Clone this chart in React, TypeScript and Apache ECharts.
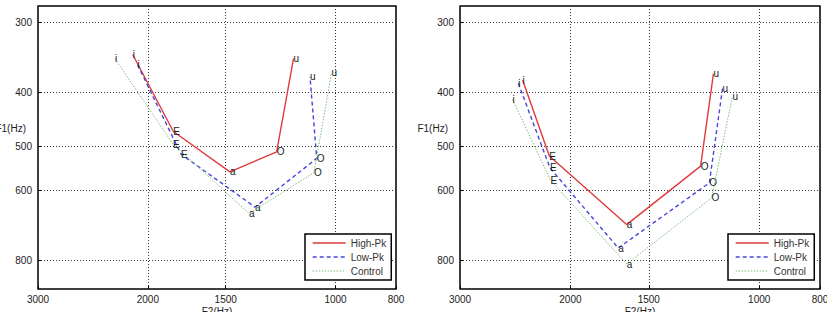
import React, { useEffect, useRef } from "react";
import * as echarts from "echarts";

// Vowel labels, in drawing order along each curve
const vowels = ["i", "E", "a", "O", "u"];

// Axis tick values (Hz)
const f2Ticks = [3000, 2000, 1500, 1000, 800];
const f1Ticks = [300, 400, 500, 600, 800];

// Left panel: formant values (Hz) per group
const leftHighF2 = [2115, 1820, 1477, 1243, 1168];
const leftHighF1 = [342, 470, 555, 511, 348];
const leftLowF2 = [2077, 1769, 1346, 1072, 1099];
const leftLowF1 = [357, 516, 642, 525, 375];
const leftCtrlF2 = [2258, 1822, 1376, 1083, 1015];
const leftCtrlF1 = [348, 495, 659, 557, 369];

// Right panel: formant values (Hz) per group
const rightHighF2 = [2384, 2161, 1627, 1240, 1183];
const rightHighF1 = [380, 520, 690, 542, 370];
const rightLowF2 = [2422, 2156, 1678, 1201, 1144];
const rightLowF1 = [385, 546, 760, 581, 393];
const rightCtrlF2 = [2473, 2151, 1627, 1191, 1103];
const rightCtrlF1 = [412, 575, 812, 618, 406];

const groupNames = ["High-Pk", "Low-Pk", "Control"];

// Axis ranges (Hz)
const f2Range = [800, 3000];
const f1Range = [280, 900];

const FONT = "Liberation Sans, Arial, sans-serif";

const groupStyles = [
  { color: "#e03a3a", width: 1.4, type: "solid" as any },
  { color: "#4646dc", width: 1.4, type: [4, 3] as any },
  { color: "#7cbc7c", width: 1, type: [1.5, 1.5] as any },
];

// Both formant axes are logarithmic: values are placed on value axes in ln(Hz)
const ln = Math.log;

function pairs(f2: number[], f1: number[]) {
  return f2.map((v, i) => [ln(v), ln(f1[i])]);
}

function tickFormatter(ticks: number[]) {
  return (v: number) => {
    const hz = Math.exp(v);
    const hit = ticks.find((t) => Math.abs(t - hz) < 0.5);
    return hit === undefined ? "" : String(hit);
  };
}

function makeSeries(gridIndex: number, data: number[][], g: number) {
  const st = groupStyles[g];
  return {
    type: "line",
    name: groupNames[g],
    xAxisIndex: gridIndex,
    yAxisIndex: gridIndex,
    data,
    symbol: "circle",
    symbolSize: 0,
    lineStyle: { color: st.color, width: st.width, type: st.type },
    itemStyle: { color: st.color },
    label: {
      show: true,
      position: "right",
      distance: 0,
      fontSize: 10,
      fontFamily: FONT,
      color: "#1a1a1a",
      formatter: (p: any) => vowels[p.dataIndex],
    },
    emphasis: { disabled: true },
    z: 3 + g,
  };
}

function xAxisFor(gridIndex: number) {
  const ticks = f2Ticks.map(ln);
  return {
    type: "value",
    gridIndex,
    min: ln(f2Range[0]),
    max: ln(f2Range[1]),
    inverse: true,
    name: "F2(Hz)",
    nameLocation: "middle",
    nameGap: 17,
    nameMoveOverlap: false,
    nameTextStyle: {
      fontSize: 10,
      fontFamily: FONT,
      color: "#222",
      verticalAlign: "top",
    },
    axisLine: { show: false },
    axisTick: {
      show: true,
      inside: true,
      length: 3,
      customValues: ticks,
      lineStyle: { color: "#000" },
    },
    axisLabel: {
      customValues: ticks,
      margin: 5,
      fontSize: 10,
      fontFamily: FONT,
      color: "#222",
      formatter: tickFormatter(f2Ticks),
    },
    splitLine: {
      show: true,
      lineStyle: { color: "#333", type: [1, 2], width: 1 },
    },
  };
}

function yAxisFor(gridIndex: number) {
  const ticks = f1Ticks.map(ln);
  return {
    type: "value",
    gridIndex,
    min: ln(f1Range[0]),
    max: ln(f1Range[1]),
    inverse: true,
    axisLine: { show: false },
    axisTick: {
      show: true,
      inside: true,
      length: 3,
      customValues: ticks,
      lineStyle: { color: "#000" },
    },
    axisLabel: {
      customValues: ticks,
      margin: 6,
      fontSize: 10,
      fontFamily: FONT,
      color: "#222",
      formatter: tickFormatter(f1Ticks),
    },
    splitLine: {
      show: true,
      lineStyle: { color: "#333", type: [1, 2], width: 1 },
    },
  };
}

// Horizontal F1 axis title, set to the left of the tick labels
function f1Title(rightX: number) {
  return {
    type: "text",
    x: rightX,
    y: 128,
    silent: true,
    style: {
      text: "F1(Hz)",
      fontSize: 10,
      fontFamily: FONT,
      fill: "#222",
      align: "right",
      verticalAlign: "middle",
    },
  };
}

function legendAt(left: number) {
  return {
    orient: "vertical",
    left,
    top: 234,
    data: groupNames,
    itemWidth: 33,
    itemHeight: 10,
    itemGap: 4,
    padding: [4, 5, 4, 7],
    backgroundColor: "#fff",
    borderColor: "#000",
    borderWidth: 1.5,
    borderRadius: 0,
    selectedMode: false,
    itemStyle: { opacity: 0 },
    lineStyle: { width: "inherit" },
    textStyle: { fontSize: 10, fontFamily: FONT, color: "#333" },
    z: 10,
  };
}

const gridBase = {
  top: 6,
  height: 283,
  show: true,
  borderColor: "#000",
  borderWidth: 1.5,
  backgroundColor: "transparent",
  containLabel: false,
  outerBoundsMode: "none",
};

export default function App() {
  const ref = useRef<HTMLDivElement>(null);

  useEffect(() => {
    if (!ref.current) return;
    const chart = echarts.init(ref.current, undefined, { renderer: "svg" });

    const leftSets = [
      pairs(leftHighF2, leftHighF1),
      pairs(leftLowF2, leftLowF1),
      pairs(leftCtrlF2, leftCtrlF1),
    ];
    const rightSets = [
      pairs(rightHighF2, rightHighF1),
      pairs(rightLowF2, rightLowF1),
      pairs(rightCtrlF2, rightCtrlF1),
    ];

    chart.setOption({
      animation: false,
      backgroundColor: "#fff",
      grid: [
        { ...gridBase, left: 38, width: 358 },
        { ...gridBase, left: 460, width: 360 },
      ],
      xAxis: [xAxisFor(0), xAxisFor(1)],
      yAxis: [yAxisFor(0), yAxisFor(1)],
      legend: [legendAt(305), legendAt(728)],
      graphic: [f1Title(26), f1Title(448)],
      series: [
        ...leftSets.map((d, g) => makeSeries(0, d, g)),
        ...rightSets.map((d, g) => makeSeries(1, d, g)),
      ],
    });

    return () => chart.dispose();
  }, []);

  return (
    <div
      ref={ref}
      style={{ position: "absolute", left: 0, top: 0, width: 827, height: 312 }}
    />
  );
}
